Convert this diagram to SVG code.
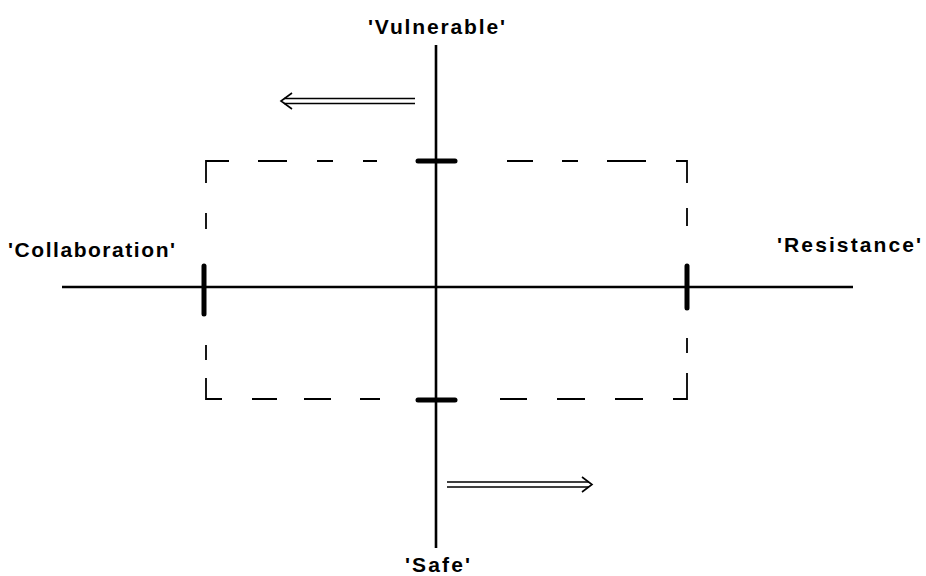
<svg xmlns="http://www.w3.org/2000/svg" width="926" height="576" viewBox="0 0 926 576">
  <style>
    .axis { stroke: #000; stroke-width: 2.6; fill: none; stroke-linecap: butt; }
    .tick { stroke: #000; stroke-width: 5; fill: none; stroke-linecap: round; }
    .dash { stroke: #000; stroke-width: 1.8; fill: none; }
    .arrow { stroke: #000; stroke-width: 1.6; fill: none; stroke-linejoin: miter; }
    .label { font-family: "Liberation Sans", Arial, sans-serif; font-weight: bold; font-size: 21px; fill: #000; }
  </style>
  <rect width="926" height="576" fill="#fff"/>

  <!-- dashed frame -->
  <g id="frame" class="dash">
    <!-- top edge -->
    <path d="M206,183 V161 H229"/>
    <path d="M258,161 H287 M317,161 H333 M363,161 H377"/>
    <path d="M507,161 H533 M562,161 H578 M607,161 H646"/>
    <path d="M676,161 H687 V183"/>
    <!-- right edge -->
    <path d="M687,208 V226 M687,338 V353"/>
    <path d="M687,373 V399 H673"/>
    <!-- bottom edge -->
    <path d="M643,399 H615 M585,399 H557 M527,399 H500"/>
    <path d="M380,399 H360 M331,399 H304 M277,399 H252"/>
    <path d="M222,399 H206 V378"/>
    <!-- left edge -->
    <path d="M206,213 V229 M206,345 V360"/>
  </g>

  <!-- axes -->
  <g id="axes">
    <line class="axis" x1="436" y1="45" x2="436" y2="548"/>
    <line class="axis" x1="62" y1="287" x2="853" y2="287"/>
    <line class="tick" x1="418" y1="161" x2="455" y2="161"/>
    <line class="tick" x1="418" y1="400" x2="455" y2="400"/>
    <line class="tick" x1="204" y1="266" x2="204" y2="314"/>
    <line class="tick" x1="687" y1="266" x2="687" y2="308"/>
  </g>

  <!-- direction arrows -->
  <g id="connectors" class="arrow">
    <g id="arrow-left">
      <path d="M415,98.5 H284 M415,103.5 H284"/>
      <path d="M292,93 L281,101 L292,109"/>
    </g>
    <g id="arrow-right">
      <path d="M447,482 H589 M447,487 H589"/>
      <path d="M582,477 L592,484.5 L582,492"/>
    </g>
  </g>

  <!-- axis labels -->
  <g id="label-vulnerable"><text class="label" x="368" y="34" textLength="137" lengthAdjust="spacing">'Vulnerable'</text></g>
  <g id="label-collaboration"><text class="label" x="8" y="257" textLength="167" lengthAdjust="spacing">'Collaboration'</text></g>
  <g id="label-resistance"><text class="label" x="777" y="252" textLength="144" lengthAdjust="spacing">'Resistance'</text></g>
  <g id="label-safe"><text class="label" x="405" y="572" textLength="65" lengthAdjust="spacing">'Safe'</text></g>
</svg>
